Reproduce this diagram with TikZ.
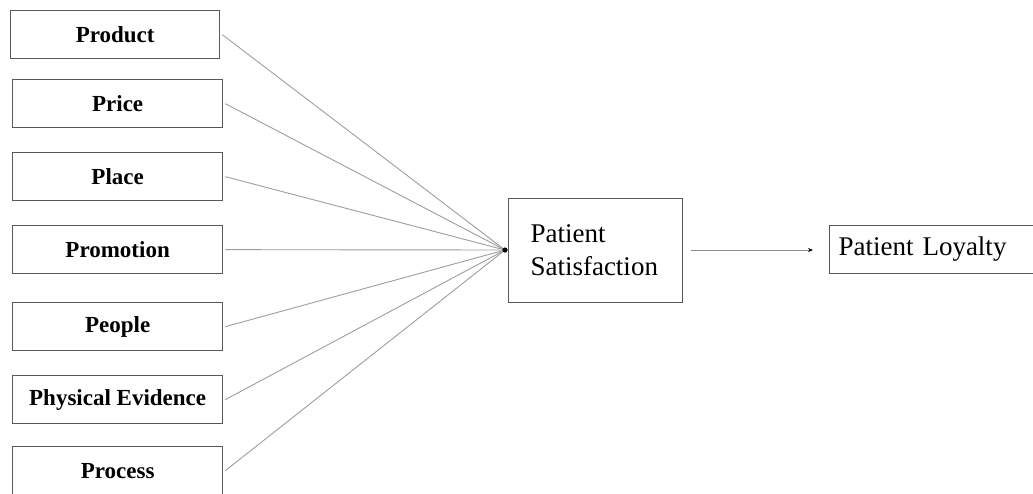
\documentclass[tikz,border=0pt]{standalone}
\usepackage{fontspec}
\setmainfont{Liberation Serif}
\usetikzlibrary{arrows.meta}
\begin{document}
\begin{tikzpicture}[x=1pt,y=-1pt,
  factor/.style={draw=black!65, line width=1.3pt, anchor=north west, inner sep=0pt,
    minimum width=210pt, minimum height=48pt, font=\fontsize{23}{26}\selectfont\bfseries},
  outcome/.style={draw=black!65, line width=1pt, inner sep=0pt},
  link/.style={draw=black!38, line width=0.9pt},
  flow/.style={draw=black!45, line width=0.9pt, -{Stealth[length=5pt,width=4pt,black]}}]
\clip (0,0) rectangle (1033,493);
\fill[white] (0,0) rectangle (1033,493);

% marketing mix factors
\node[factor, minimum width=209pt] (product) at (10,10) {Product};
\node[factor] (price)     at (12,79)  {Price};
\node[factor] (place)     at (12,152) {Place};
\node[factor] (promotion) at (12,225) {Promotion};
\node[factor] (people)    at (12,302) {People};
\node[factor] (evidence)  at (12,375) {Physical Evidence};
\node[factor] (process)   at (12,446) {Process};

% satisfaction and loyalty
\node[outcome, anchor=north west, minimum width=174pt, minimum height=104pt,
      inner xsep=22pt, text width=130pt, align=left,
      font=\fontsize{27}{33}\selectfont] (sat) at (508,198) {Patient\\Satisfaction};
\node[outcome, anchor=north west, minimum width=240pt, minimum height=48pt,
      inner xsep=9pt, text width=222pt, align=left,
      font=\fontsize{27}{30}\selectfont] (loy) at (829,225) {Patient Loyalty};

% junction where the factors meet
\coordinate (j) at (505,250);
\foreach \n in {product,price,place,promotion,people,evidence,process}
  \draw[link] ([xshift=2pt]\n.east) -- (j);
\fill (j) circle (2.6pt);

\draw[flow, shorten <=8pt, shorten >=16pt] (sat.east |- j) -- (loy.west |- j);
\end{tikzpicture}
\end{document}
